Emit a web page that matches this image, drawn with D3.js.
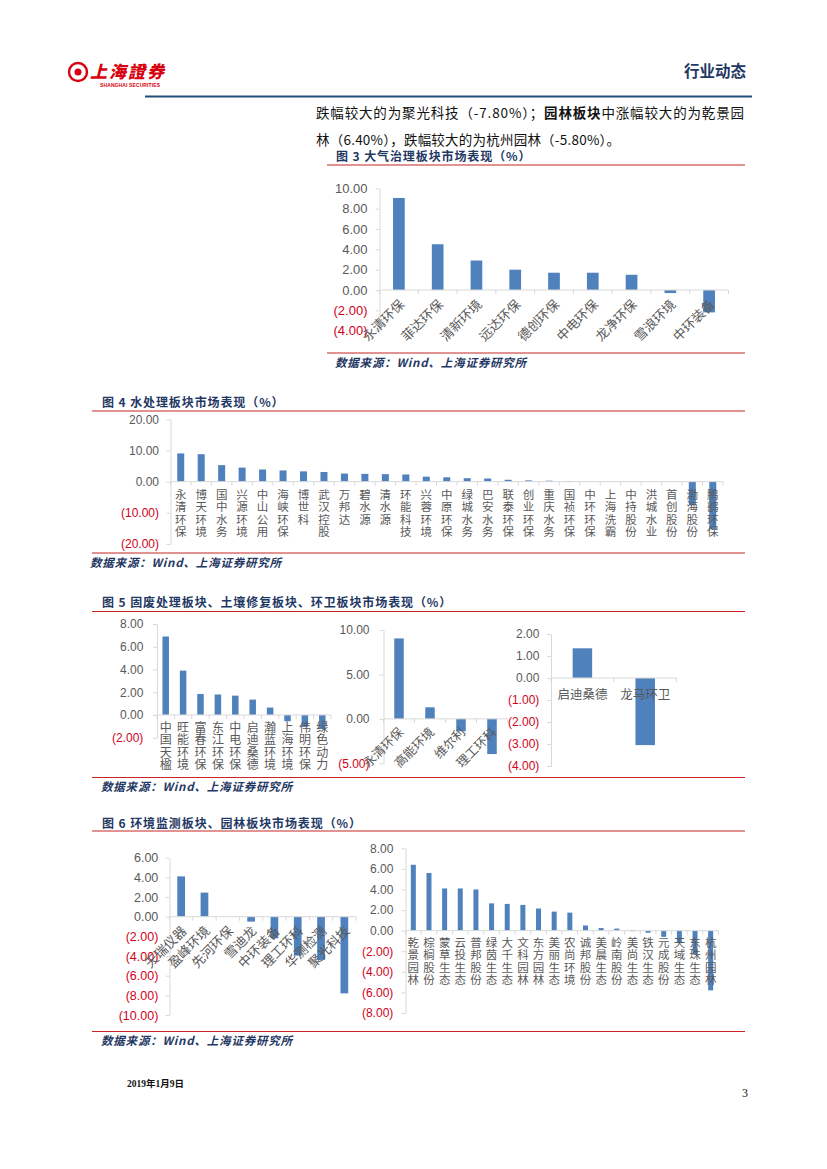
<!DOCTYPE html>
<html><head><meta charset="utf-8">
<script src="https://cdn.jsdelivr.net/npm/d3@7"></script>
<style>
html,body{margin:0;padding:0;background:#fff;}
svg{display:block;}
</style></head>
<body>
<svg id="page" width="827" height="1169"></svg>
<script>
// ---------------- DATA ----------------
const fig3Categories = ["永清环保","菲达环保","清新环境","远达环保","德创环保","中电环保","龙净环保","雪浪环境","中环装备"];
const fig3Values = [9.05, 4.5, 2.9, 2.0, 1.7, 1.7, 1.5, -0.3, -2.2];
const fig3Ticks = [-4, -2, 0, 2, 4, 6, 8, 10];

const fig4Categories = ["永清环保","博天环境","国中水务","兴源环境","中山公用","海峡环保","博世科","武汉控股","万邦达","碧水源","清水源","环能科技","兴蓉环境","中原环保","绿城水务","巴安水务","联泰环保","创业环保","重庆水务","国祯环保","中环环保","上海洗霸","中持股份","洪城水业","首创股份","渤海股份","鹏鹞环保"];
const fig4Values = [9.05, 8.8, 5.3, 4.5, 3.9, 3.6, 3.3, 3.1, 2.6, 2.5, 2.4, 2.3, 1.6, 1.4, 1.1, 1.0, 0.6, 0.4, 0.3, 0.2, 0.15, 0.1, 0.0, 0.0, 0.0, -7.6, -15.2];
const fig4Ticks = [-20, -10, 0, 10, 20];

const fig5aCategories = ["中国天楹","旺能环境","富春环保","东江环保","中电环保","启迪桑德","瀚蓝环境","上海环境","伟明环保","绿色动力"];
const fig5aValues = [6.9, 3.9, 1.85, 1.8, 1.7, 1.35, 0.65, -0.55, -1.05, -1.25];
const fig5aTicks = [-2, 0, 2, 4, 6, 8];

const fig5bCategories = ["永清环保","高能环境","维尔利","理工环科"];
const fig5bValues = [9.05, 1.3, -1.4, -3.96];
const fig5bTicks = [-5, 0, 5, 10];

const fig5cCategories = ["启迪桑德","龙马环卫"];
const fig5cValues = [1.35, -3.05];
const fig5cTicks = [-4, -3, -2, -1, 0, 1, 2];

const fig6aCategories = ["天瑞仪器","盈峰环境","先河环保","雪迪龙","中环装备","理工环科","华测检测","聚光科技"];
const fig6aValues = [4.1, 2.45, 0.0, -0.5, -2.2, -3.96, -4.4, -7.8];
const fig6aTicks = [-10, -8, -6, -4, -2, 0, 2, 4, 6];

const fig6bCategories = ["乾景园林","棕榈股份","蒙草生态","云投生态","普邦股份","绿茵生态","大千生态","文科园林","东方园林","美丽生态","农尚环境","诚邦股份","美晨生态","岭南股份","美尚生态","铁汉生态","元成股份","天域生态","东珠生态","杭州园林"];
const fig6bValues = [6.4, 5.6, 4.1, 4.1, 4.0, 2.65, 2.6, 2.5, 2.15, 1.85, 1.75, 0.5, 0.25, 0.2, -0.05, -0.2, -0.6, -1.2, -2.3, -5.8];
const fig6bTicks = [-8, -6, -4, -2, 0, 2, 4, 6, 8];

// ---------------- STYLE ----------------
const BAR = "#4f81bd";
const AXIS = "#d9d9d9";
const POS = "#595959";
const NEG = "#d0021b";
const NAVY = "#1f3864";
const RED_LINE = "#c00000";
const NUMF = "'Liberation Sans', Arial, sans-serif";
const CJK = "'Noto Sans CJK SC', sans-serif";

const svg = d3.select("#page");

function fmt(v){ return v < 0 ? "(" + Math.abs(v).toFixed(2) + ")" : v.toFixed(2); }

function drawChart(o){
  const g = svg.append("g");
  const y = d3.scaleLinear().domain(o.yDomain).range(o.yRange);
  const x = d3.scaleBand().domain(o.cats).range(o.xRange).paddingInner(0).paddingOuter(0);
  const ax0 = o.xRange[0];
  const yAxis = d3.axisLeft(y).tickValues(o.ticks).tickSize(4).tickSizeOuter(0)
      .tickPadding(ax0 - o.yLabelX - 4).tickFormat(fmt);
  const ga = g.append("g").attr("transform", `translate(${ax0},0)`).call(yAxis);
  ga.select(".domain").attr("stroke", AXIS);
  ga.selectAll(".tick line").attr("stroke", AXIS);
  ga.selectAll(".tick text")
    .attr("fill", d => d < 0 ? NEG : POS)
    .style("font-family", NUMF).style("font-size", o.tickFont + "px");
  const data = o.cats.map((c, i) => ({c, v: o.vals[i]}));
  g.selectAll("rect.bar").data(data).enter().append("rect")
    .attr("x", d => x(d.c) + (x.bandwidth() - o.barW) / 2)
    .attr("width", o.barW)
    .attr("y", d => Math.min(y(d.v), y(0)))
    .attr("height", d => Math.abs(y(d.v) - y(0)))
    .attr("fill", BAR);
  const y0 = y(0);
  g.append("line").attr("x1", ax0).attr("x2", o.xRange[1]).attr("y1", y0).attr("y2", y0)
    .attr("stroke", AXIS).attr("stroke-width", 1);
  const bounds = d3.range(o.cats.length + 1).map(i => ax0 + i * x.step());
  g.selectAll("line.ct").data(bounds).enter().append("line")
    .attr("x1", d => d).attr("x2", d => d).attr("y1", y0).attr("y2", y0 + 4)
    .attr("stroke", AXIS);
  const lab = g.selectAll("text.cat").data(o.cats).enter().append("text")
    .attr("fill", POS).style("font-family", CJK).style("font-size", o.catFont + "px");
  if (o.labelMode === "rot45") {
    lab.attr("text-anchor", "end").attr("dy", "0.35em")
      .attr("transform", d => `translate(${x(d) + x.bandwidth()/2 + o.labDx},${y0 + o.labDy}) rotate(-45)`)
      .text(d => d);
  } else if (o.labelMode === "vertical") {
    lab.attr("x", d => x(d) + x.bandwidth()/2)
      .attr("y", o.labTop)
      .style("writing-mode", "vertical-rl")
      .style("text-orientation", "upright")
      .style("letter-spacing", (o.labStep - o.catFont) + "px")
      .text(d => d);
  } else {
    lab.attr("text-anchor", "middle").attr("x", d => x(d) + x.bandwidth()/2)
      .attr("y", y0 + o.labDy).text(d => d);
  }
}

function redLine(x1, x2, yy){
  svg.append("line").attr("x1", x1).attr("x2", x2).attr("y1", yy).attr("y2", yy)
    .attr("stroke", RED_LINE).attr("stroke-width", 1.2).attr("opacity", 0.85);
}
function title(txt, xx, yy){
  svg.append("text").attr("x", xx).attr("y", yy).attr("dy", "0.35em")
    .attr("fill", NAVY).style("font-family", CJK).style("font-weight", "700")
    .style("font-size", "12px").style("letter-spacing", "0.9px").text(txt);
}
function source(xx, yy){
  svg.append("text").attr("x", xx).attr("y", yy).attr("dy", "0.35em")
    .attr("fill", NAVY).style("font-family", CJK).style("font-weight", "700")
    .style("font-style", "italic").style("font-size", "11.5px").style("letter-spacing", "0.8px")
    .text("数据来源：Wind、上海证券研究所");
}

// ---------------- HEADER ----------------
const logo = svg.append("g");
logo.append("circle").attr("cx", 78).attr("cy", 72).attr("r", 9).attr("fill", "none").attr("stroke", "#d7000f").attr("stroke-width", 2.4);
logo.append("circle").attr("cx", 78).attr("cy", 72).attr("r", 3.5).attr("fill", "#d7000f");
logo.append("text").attr("x", 90).attr("y", 78).attr("fill", "#d7000f")
  .style("font-family", CJK).style("font-weight", "900").style("font-size", "17px").style("font-style", "italic")
  .attr("textLength", 74).text("上海證券");
logo.append("text").attr("x", 100).attr("y", 87).attr("fill", "#d7000f")
  .style("font-family", NUMF).style("font-weight", "700").style("font-size", "5px")
  .attr("textLength", 60).text("SHANGHAI SECURITIES");
svg.append("text").attr("x", 746).attr("y", 72).attr("dy", "0.35em").attr("text-anchor", "end")
  .attr("fill", NAVY).style("font-family", CJK).style("font-weight", "700").style("font-size", "15.5px")
  .text("行业动态");
svg.append("line").attr("x1", 145).attr("x2", 752).attr("y1", 96.5).attr("y2", 96.5)
  .attr("stroke", "#1f4e79").attr("stroke-width", 2.2);

// body text
const t1 = svg.append("text").attr("x", 316).attr("y", 113).attr("dy", "0.35em")
  .style("font-family", CJK).style("font-size", "13.5px").attr("fill", "#111")
  .attr("textLength", 428).attr("lengthAdjust", "spacing");
t1.append("tspan").text("跌幅较大的为聚光科技（-7.80%）；");
t1.append("tspan").style("font-weight", "700").text("园林板块");
t1.append("tspan").text("中涨幅较大的为乾景园");
svg.append("text").attr("x", 316).attr("y", 140).attr("dy", "0.35em")
  .style("font-family", CJK).style("font-size", "13.5px").attr("fill", "#111")
  .attr("textLength", 304).attr("lengthAdjust", "spacing")
  .text("林（6.40%），跌幅较大的为杭州园林（-5.80%）。");

// ---------------- FIGURE 3 ----------------
title("图 3 大气治理板块市场表现（%）", 336, 156.5);
redLine(327, 745, 165);
drawChart({cats: fig3Categories, vals: fig3Values, ticks: fig3Ticks,
  yDomain: [-4, 10], yRange: [330.7, 188.3], xRange: [379.5, 728.5], barW: 11.7,
  yLabelX: 367.5, tickFont: 13, catFont: 13, labelMode: "rot45", labDx: 3, labDy: 12});
redLine(327, 745, 353);
source(335, 363);

// ---------------- FIGURE 4 ----------------
title("图 4 水处理板块市场表现（%）", 102, 403);
redLine(92, 745, 411);
drawChart({cats: fig4Categories, vals: fig4Values, ticks: fig4Ticks,
  yDomain: [-20, 20], yRange: [544, 419.3], xRange: [170.5, 723], barW: 7,
  yLabelX: 159, tickFont: 12, catFont: 11.5, labelMode: "vertical", labTop: 489, labStep: 12.3});
redLine(92, 745, 553);
source(90, 562.5);

// ---------------- FIGURE 5 ----------------
title("图 5 固废处理板块、土壤修复板块、环卫板块市场表现（%）", 102, 603);
redLine(92, 745, 611.5);
drawChart({cats: fig5aCategories, vals: fig5aValues, ticks: fig5aTicks,
  yDomain: [-2, 8], yRange: [737.7, 624], xRange: [157, 331], barW: 6.5,
  yLabelX: 143.3, tickFont: 12, catFont: 12, labelMode: "vertical", labTop: 721, labStep: 12.6});
drawChart({cats: fig5bCategories, vals: fig5bValues, ticks: fig5bTicks,
  yDomain: [-5, 10], yRange: [763.3, 630], xRange: [383.5, 507.5], barW: 9.5,
  yLabelX: 369.5, tickFont: 12, catFont: 12.5, labelMode: "rot45", labDx: 2, labDy: 11});
drawChart({cats: fig5cCategories, vals: fig5cValues, ticks: fig5cTicks,
  yDomain: [-4, 2], yRange: [766, 634], xRange: [551, 676.6], barW: 19.5,
  yLabelX: 539.3, tickFont: 12, catFont: 12.5, labelMode: "horizontal", labDy: 21});
redLine(92, 745, 777.5);
source(101, 787);

// ---------------- FIGURE 6 ----------------
title("图 6 环境监测板块、园林板块市场表现（%）", 102, 823.5);
redLine(92, 745, 831);
drawChart({cats: fig6aCategories, vals: fig6aValues, ticks: fig6aTicks,
  yDomain: [-10, 6], yRange: [1015, 857.7], xRange: [169.5, 356], barW: 7.7,
  yLabelX: 158.3, tickFont: 12.5, catFont: 13, labelMode: "rot45", labDx: 3, labDy: 12});
drawChart({cats: fig6bCategories, vals: fig6bValues, ticks: fig6bTicks,
  yDomain: [-8, 8], yRange: [1013, 848.3], xRange: [405.5, 718.5], barW: 5,
  yLabelX: 393.3, tickFont: 12, catFont: 11.5, labelMode: "vertical", labTop: 937, labStep: 12.2});
redLine(92, 745, 1031.5);
source(101, 1040.5);

// ---------------- FOOTER ----------------
svg.append("text").attr("x", 127).attr("y", 1084).attr("dy", "0.35em")
  .style("font-family", "'Liberation Serif', 'Noto Sans CJK SC', serif").style("font-weight", "700")
  .style("font-size", "9.5px").attr("fill", "#111").text("2019年1月9日");
svg.append("text").attr("x", 748).attr("y", 1093).attr("dy", "0.35em").attr("text-anchor", "end")
  .style("font-family", "'Liberation Serif', serif").style("font-size", "12px").attr("fill", "#111").text("3");
</script>
</body></html>
